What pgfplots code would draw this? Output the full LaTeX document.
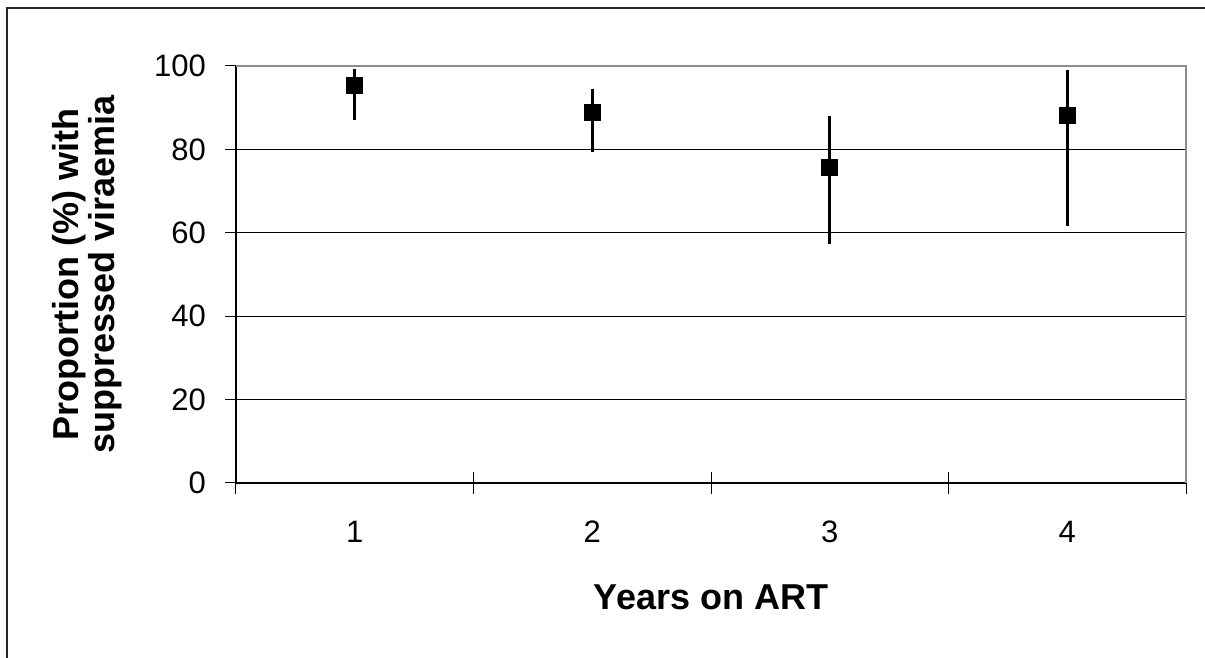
\documentclass[border=0pt]{standalone}
\usepackage{pgfplots}
\pgfplotsset{compat=1.18}
\usepackage{pgfplotstable}
\usepackage{fontspec}
\setmainfont{Liberation Sans}

% proportion suppressed, with upper (ep) and lower (em) error
\pgfplotstableread{
x y    ep   em
1 95.4 3.8  8.3
2 88.9 5.6  9.6
3 75.6 12.4 18.2
4 88.2 10.8 26.6
}\viraemia

\begin{document}
\begin{tikzpicture}
\useasboundingbox (0,0) rectangle (602.5pt,329pt);
\draw[line width=0.8pt, black!85] (3.5pt,-2pt) -- (3.5pt,325pt) -- (605pt,325pt);
\begin{axis}[
  at={(118pt,87.5pt)}, anchor=south west,
  scale only axis, width=475pt, height=208.5pt,
  xmin=0.5, xmax=4.5, ymin=0, ymax=100,
  axis lines=left, axis line style={-, black, line width=0.6pt},
  tick align=center, tick style={black, line width=0.5pt},
  major tick length=11pt, minor tick length=11pt,
  xtick={1,2,3,4}, xticklabels={1,2,3,4},
  major x tick style={draw=none},
  minor xtick={0.5,1.5,2.5,3.5,4.5},
  ytick={0,20,...,100},
  ymajorgrids, major grid style={black, line width=0.6pt},
  /pgf/number format/assume math mode=true,
  tick label style={font=\fontsize{15.5}{17}\selectfont},
  xticklabel style={yshift=-10pt},
  yticklabel style={xshift=-6pt},
  xlabel={Years on ART},
  ylabel={Proportion (\%) with\\suppressed viraemia},
  every axis x label/.style={at={([yshift=-57pt]axis description cs:0.5,0)}, anchor=center,
    font=\fontsize{18}{18}\selectfont\bfseries},
  every axis y label/.style={at={([xshift=-74.25pt]axis description cs:0,0.5)}, rotate=90, anchor=center, align=center,
    font=\fontsize{18}{18}\selectfont\bfseries},
  clip=false,
]
\draw[gray!90, line width=1.1pt] (rel axis cs:0,1) -- (rel axis cs:1,1) -- (rel axis cs:1,0);
\addplot[only marks, mark=square*, mark size=4pt, black,
  error bars/.cd, y dir=both, y explicit, error mark=none,
  error bar style={line width=1.3pt, black}]
  table[x=x, y=y, y error plus=ep, y error minus=em] {\viraemia};
\end{axis}
\end{tikzpicture}
\end{document}
